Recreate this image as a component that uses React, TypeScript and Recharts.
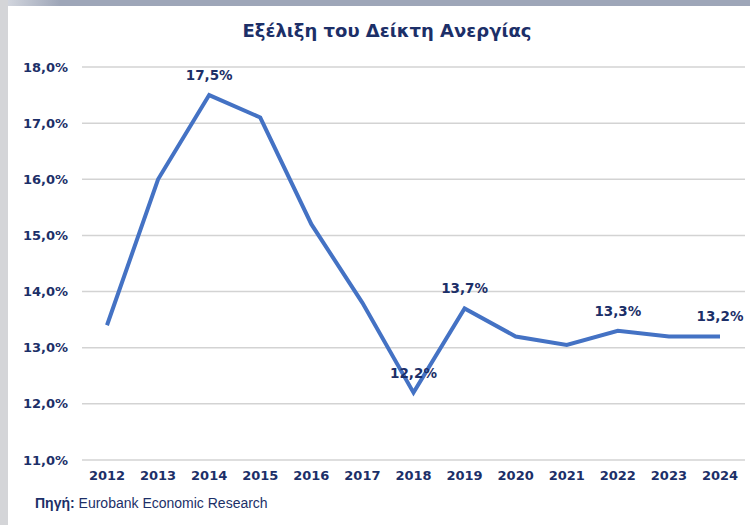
import { LineChart, Line, XAxis, YAxis, CartesianGrid, LabelList } from 'recharts';

const years = ['2012', '2013', '2014', '2015', '2016', '2017', '2018', '2019', '2020', '2021', '2022', '2023', '2024'];
const unemployment = [13.4, 16.0, 17.5, 17.1, 15.2, 13.8, 12.2, 13.7, 13.2, 13.05, 13.3, 13.2, 13.2];
const labelled = ['2014', '2018', '2019', '2022', '2024'];
const yTicks = [11, 12, 13, 14, 15, 16, 17, 18];

const data = years.map((year, i) => ({ year, value: unemployment[i] }));

const navy = '#1c2f68';
const fmt = (v: number) => v.toFixed(1).replace('.', ',') + '%';

const PointLabel = (props: any) => {
  const { x, y, index } = props;
  if (!labelled.includes(years[index])) return null;
  return (
    <text
      x={x}
      y={y - 15}
      textAnchor="middle"
      fill={navy}
      fontSize={13.5}
      fontWeight="bold"
      fontFamily="DejaVu Sans"
    >
      {fmt(unemployment[index])}
    </text>
  );
};

export default function App() {
  return (
    <div style={{ position: 'absolute', left: 0, top: 0, width: 756, height: 525, background: '#fff' }}>
      {/* frame edges */}
      <div style={{ position: 'absolute', left: 0, top: 0, width: 750, height: 6, background: 'linear-gradient(to right, #d9dce3, #9ea6b8 8%, #9ea6b8)' }} />
      <div style={{ position: 'absolute', left: 0, top: 0, width: 8, height: 525, background: '#d4d5d8' }} />

      <div
        style={{
          position: 'absolute', left: 0, top: 20, width: 774, textAlign: 'center',
          fontFamily: 'DejaVu Sans', fontWeight: 'bold', fontSize: 18, color: navy,
        }}
      >
        Εξέλιξη του Δείκτη Ανεργίας
      </div>

      <LineChart
        width={756}
        height={525}
        data={data}
        margin={{ top: 67, right: 11, left: 0, bottom: 35 }}
        style={{ position: 'absolute', left: 0, top: 0 }}
      >
        <CartesianGrid vertical={false} stroke="#d3d3d3" strokeWidth={1.5} />
        <XAxis
          dataKey="year"
          axisLine={false}
          tickLine={false}
          tickSize={0}
          tickMargin={11}
          height={30}
          interval={0}
          padding={{ left: 25, right: 25 }}
          tick={{ fill: navy, fontSize: 13, fontWeight: 'bold', fontFamily: 'DejaVu Sans' }}
        />
        <YAxis
          domain={[11, 18]}
          ticks={yTicks}
          width={82}
          axisLine={false}
          tickLine={false}
          tickSize={0}
          tickMargin={14}
          tickFormatter={fmt}
          tick={{ fill: navy, fontSize: 13, fontWeight: 'bold', fontFamily: 'DejaVu Sans' }}
        />
        <Line
          type="linear"
          dataKey="value"
          stroke="#4472c4"
          strokeWidth={4}
          dot={false}
          isAnimationActive={false}
        >
          <LabelList dataKey="value" content={PointLabel} />
        </Line>
      </LineChart>

      <div
        style={{
          position: 'absolute', left: 35, top: 495, fontFamily: 'Liberation Sans',
          fontSize: 14, color: navy, whiteSpace: 'nowrap',
        }}
      >
        <b>Πηγή:</b> Eurobank Economic Research
      </div>
    </div>
  );
}
